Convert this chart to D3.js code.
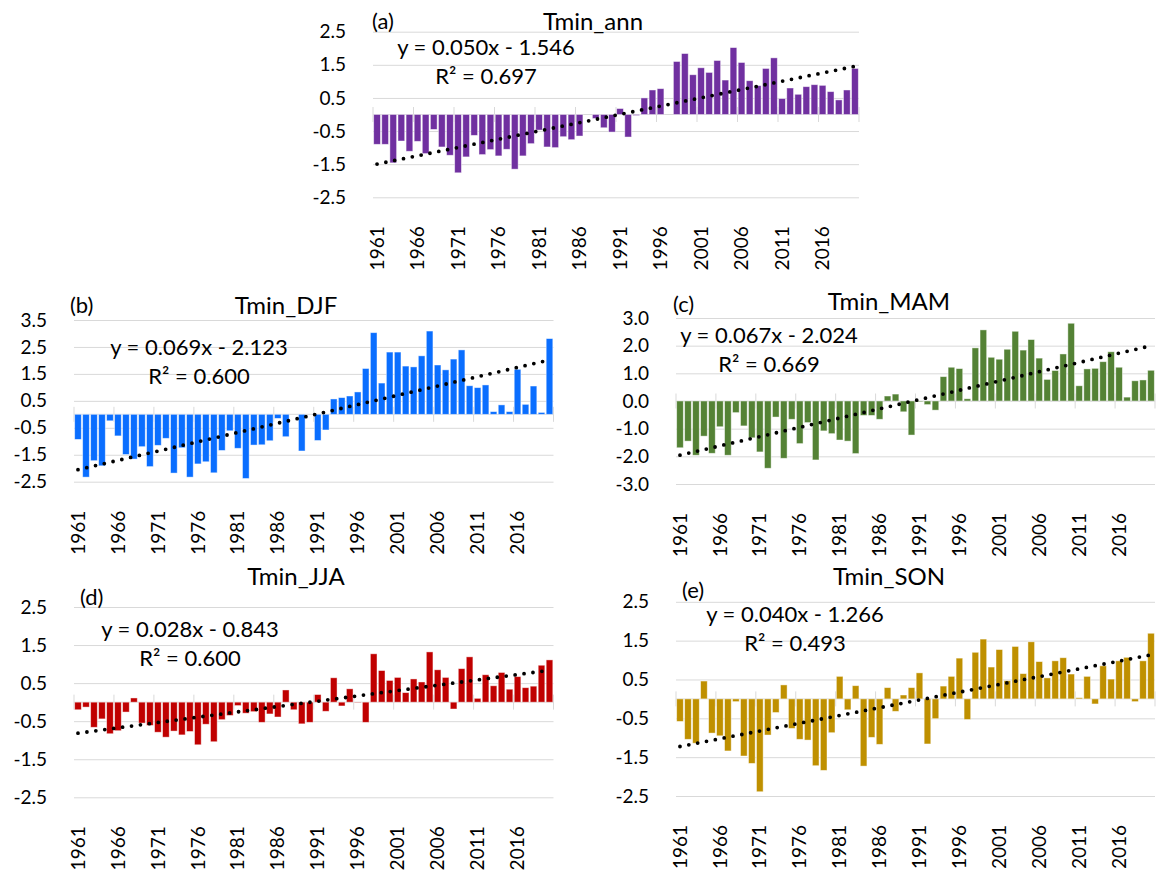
<!DOCTYPE html>
<html>
<head>
<meta charset="utf-8">
<script src="https://cdn.jsdelivr.net/npm/d3@7"></script>
<style>
  body { margin: 0; background: #fff; }
  text { font-family: Lato, "Open Sans", sans-serif; fill: #000; }
</style>
</head>
<body>
<svg id="chart" width="1158" height="875"></svg>
<script>
// categories
const years = d3.range(1961, 2021);
const tickYears = [1961, 1966, 1971, 1976, 1981, 1986, 1991, 1996, 2001, 2006, 2011, 2016];

// anomalies, 1961..2020
const tminAnn = [-0.90, -0.90, -1.46, -0.80, -1.11, -0.81, -1.18, -0.45, -0.98, -1.23,
  -1.76, -1.28, -0.63, -1.21, -1.06, -1.25, -1.05, -1.65, -1.25, -0.88,
  -0.47, -0.98, -1.00, -0.67, -0.76, -0.65, 0.00, -0.12, -0.40, -0.53,
  0.18, -0.68, -0.03, 0.50, 0.74, 0.78, 0.00, 1.60, 1.84, 1.20,
  1.41, 1.27, 1.63, 1.04, 2.02, 1.57, 1.02, 0.87, 1.39, 1.71,
  0.48, 0.80, 0.61, 0.84, 0.90, 0.88, 0.69, 0.44, 0.74, 1.39];
const tminDJF = [-0.93, -2.33, -1.72, -1.91, -0.24, -0.80, -1.49, -1.66, -1.20, -1.94,
  -1.15, -0.89, -2.18, -1.24, -2.33, -1.84, -1.76, -2.17, -1.34, -0.61,
  -1.26, -2.38, -1.14, -1.13, -0.98, -0.15, -0.83, 0.00, -1.36, 0.00,
  -0.97, -0.58, 0.57, 0.62, 0.68, 0.83, 1.70, 3.03, 1.16, 2.31,
  2.31, 1.79, 1.76, 2.17, 3.09, 1.83, 1.65, 2.05, 2.39, 1.06,
  0.99, 1.09, 0.10, 0.35, 0.10, 1.67, 0.37, 1.05, 0.07, 2.81];
const tminMAM = [-1.69, -1.45, -1.96, -1.27, -1.89, -0.93, -1.96, -0.42, -0.90, -1.33,
  -1.84, -2.43, -0.58, -2.07, -0.66, -1.54, -0.78, -2.13, -1.08, -1.18,
  -1.41, -1.45, -1.90, -0.52, -0.52, -0.66, 0.18, 0.25, -0.39, -1.23,
  -0.03, -0.13, -0.33, 0.88, 1.22, 1.17, 0.08, 1.92, 2.57, 1.58,
  1.51, 1.87, 2.52, 1.84, 2.22, 1.55, 0.78, 1.10, 1.70, 2.81,
  0.55, 1.16, 1.18, 1.42, 1.78, 1.22, 0.14, 0.73, 0.76, 1.11];
const tminJJA = [-0.20, -0.13, -0.66, -0.44, -0.83, -0.75, -0.26, 0.11, -0.55, -0.61,
  -0.79, -0.92, -0.76, -0.86, -0.77, -1.12, -0.58, -1.04, -0.46, -0.35,
  -0.09, -0.29, -0.25, -0.53, -0.31, -0.39, 0.32, -0.20, -0.57, -0.53,
  0.20, -0.24, 0.64, -0.10, 0.35, -0.01, -0.53, 1.27, 0.83, 0.57,
  0.65, 0.25, 0.61, 0.53, 1.32, 0.85, 0.65, -0.18, 0.88, 1.19,
  0.10, 0.72, 0.43, 0.78, 0.34, 0.67, 0.38, 0.42, 0.97, 1.11];
const tminSON = [-0.58, -1.04, -1.14, 0.46, -0.88, -0.95, -1.34, -0.07, -1.47, -1.66,
  -2.39, -0.93, -0.35, 0.36, -0.76, -1.04, -1.06, -1.72, -1.84, -0.87,
  0.58, -0.28, 0.34, -1.73, -0.99, -1.17, 0.29, -0.32, 0.10, 0.29,
  0.67, -1.16, -0.51, 0.33, 0.58, 1.05, -0.53, 1.20, 1.54, 0.82,
  1.27, 0.47, 1.35, 0.65, 1.47, 0.96, 0.54, 0.98, 1.06, 0.64,
  0.03, 0.58, -0.13, 0.85, 0.51, 0.98, 1.07, -0.07, 0.98, 1.69];

// trend lines as printed on the chart
const panelTitles = ["Tmin_ann", "Tmin_DJF", "Tmin_MAM", "Tmin_JJA", "Tmin_SON"];
const panelLetters = ["(a)", "(b)", "(c)", "(d)", "(e)"];
const slopes = [0.050, 0.069, 0.067, 0.028, 0.040];
const intercepts = [-1.546, -2.123, -2.024, -0.843, -1.266];
const r2Values = [0.697, 0.600, 0.669, 0.600, 0.493];

// y tick values
const yTicksHalf = [-2.5, -1.5, -0.5, 0.5, 1.5, 2.5];
const yTicksDJF = [-2.5, -1.5, -0.5, 0.5, 1.5, 2.5, 3.5];
const yTicksMAM = [-3, -2, -1, 0, 1, 2, 3];

const series = [tminAnn, tminDJF, tminMAM, tminJJA, tminSON];
const tickSets = [yTicksHalf, yTicksDJF, yTicksMAM, yTicksHalf, yTicksHalf];

// layout
const panels = [
  { left: 373, right: 859, top: 31.7, bottom: 197.3, color: "#7030a0",
    letter: [372, 29], title: [593, 30], eq: [486, 55] },
  { left: 74, right: 553.5, top: 320, bottom: 481.7, color: "#0a6eff",
    letter: [70, 313], title: [286, 314], eq: [199, 355] },
  { left: 676, right: 1155, top: 318, bottom: 484, color: "#548235",
    letter: [673, 312], title: [889, 310], eq: [769, 343] },
  { left: 74, right: 553.5, top: 607, bottom: 797.3, color: "#c00000",
    letter: [80, 605], title: [296, 585], eq: [190, 637] },
  { left: 676, right: 1155, top: 601.8, bottom: 796, color: "#bf9000",
    letter: [682, 598], title: [889, 585], eq: [795, 622] }
];

const svg = d3.select("#chart");
svg.append("rect").attr("width", 1158).attr("height", 875).attr("fill", "#fff");

const pad = 0.17;
const grid = "#d9d9d9";
const fmt = v => v.toFixed(1);
const tickFont = 19;

panels.forEach((p, k) => {
  const values = series[k];
  const ticks = tickSets[k];
  const g = svg.append("g");

  const x = d3.scaleBand()
    .domain(years)
    .range([p.left, p.right])
    .paddingInner(pad)
    .paddingOuter(pad / 2);

  const y = d3.scaleLinear()
    .domain([d3.min(ticks), d3.max(ticks)])
    .range([p.bottom, p.top]);

  // gridlines
  g.append("g")
    .attr("transform", "translate(" + p.left + ",0)")
    .call(d3.axisLeft(y).tickValues(ticks).tickSize(-(p.right - p.left)).tickFormat(""))
    .call(a => a.select(".domain").remove())
    .selectAll("line").attr("stroke", grid).attr("stroke-width", 1);

  // y labels
  g.append("g")
    .attr("transform", "translate(" + p.left + ",0)")
    .call(d3.axisLeft(y).tickValues(ticks).tickSize(0).tickPadding(27).tickFormat(fmt))
    .call(a => a.select(".domain").remove())
    .selectAll("text")
    .attr("font-size", tickFont)
    .attr("font-family", "Lato, 'Open Sans', sans-serif")
    .attr("fill", "#000");

  // category axis line and cross tick marks
  const y0 = y(0);
  g.append("line")
    .attr("x1", p.left).attr("x2", p.right)
    .attr("y1", y0).attr("y2", y0)
    .attr("stroke", grid).attr("stroke-width", 1);

  const half = x.step() * pad / 2;
  const bounds = tickYears.map(d => x(d) - half).concat([p.right]);
  g.selectAll(".xtick")
    .data(bounds)
    .enter().append("line")
    .attr("x1", d => d).attr("x2", d => d)
    .attr("y1", y0 - 7.5).attr("y2", y0 + 7.5)
    .attr("stroke", grid).attr("stroke-width", 1);

  // bars
  g.selectAll(".bar")
    .data(values)
    .enter().append("rect")
    .attr("x", (d, i) => x(years[i]))
    .attr("width", x.bandwidth())
    .attr("y", d => y(Math.max(0, d)))
    .attr("height", d => Math.abs(y(d) - y(0)))
    .attr("fill", p.color)
    .attr("stroke", "#fff")
    .attr("stroke-opacity", 0.55)
    .attr("stroke-width", 0.8);

  // linear trend (dotted)
  const n = years.length;
  const cx = i => x(years[i]) + x.bandwidth() / 2;
  g.append("line")
    .attr("x1", cx(0)).attr("y1", y(slopes[k] * 1 + intercepts[k]))
    .attr("x2", cx(n - 1)).attr("y2", y(slopes[k] * n + intercepts[k]))
    .attr("stroke", "#000")
    .attr("stroke-width", 3.8)
    .attr("stroke-linecap", "round")
    .attr("stroke-dasharray", "0 9");

  // rotated year labels
  g.append("g")
    .attr("transform", "translate(0," + p.bottom + ")")
    .call(d3.axisBottom(x).tickValues(tickYears).tickSize(0))
    .call(a => a.select(".domain").remove())
    .selectAll("text")
    .attr("transform", "rotate(-90)")
    .attr("x", -29)
    .attr("y", 0)
    .attr("dy", "0.35em")
    .attr("text-anchor", "end")
    .attr("font-size", tickFont)
    .attr("font-family", "Lato, 'Open Sans', sans-serif")
    .attr("fill", "#000");

  // letter, title, trend equation
  g.append("text")
    .attr("x", p.letter[0]).attr("y", p.letter[1])
    .attr("font-size", 22)
    .text(panelLetters[k]);

  g.append("text")
    .attr("x", p.title[0]).attr("y", p.title[1])
    .attr("text-anchor", "middle")
    .attr("font-size", 24)
    .text(panelTitles[k]);

  const sign = intercepts[k] < 0 ? " - " : " + ";
  g.append("text")
    .attr("x", p.eq[0]).attr("y", p.eq[1])
    .attr("text-anchor", "middle")
    .attr("font-size", 22)
    .text("y = " + slopes[k].toFixed(3) + "x" + sign + Math.abs(intercepts[k]).toFixed(3));

  g.append("text")
    .attr("x", p.eq[0]).attr("y", p.eq[1] + 28.5)
    .attr("text-anchor", "middle")
    .attr("font-size", 22)
    .text("R\u00b2 = " + r2Values[k].toFixed(3));
});
</script>
</body>
</html>
